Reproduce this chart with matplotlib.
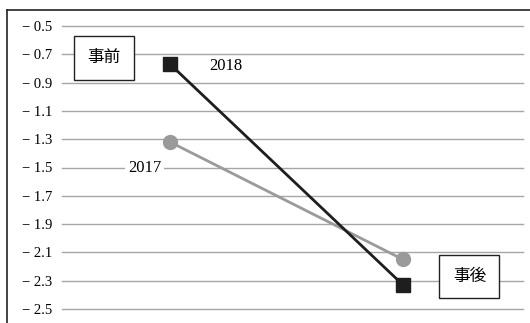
import matplotlib
matplotlib.use("Agg")
import matplotlib.pyplot as plt
from matplotlib.lines import Line2D

# data
phases = ["事前", "事後"]
values_2018 = [-0.77, -2.33]
values_2017 = [-1.32, -2.15]
yticks = [-0.5, -0.7, -0.9, -1.1, -1.3, -1.5, -1.7, -1.9, -2.1, -2.3, -2.5]

SERIF = ["Liberation Serif", "Noto Sans CJK JP", "DejaVu Serif"]
JP = ["Noto Sans CJK JP", "DejaVu Sans"]

fig = plt.figure(figsize=(5.3, 3.23), dpi=100)
ax = fig.add_axes([62 / 530, 1 - 309 / 323, (523 - 62) / 530, (309 - 26) / 323])

for y in yticks:
    ax.axhline(y, color="#a6a6a6", lw=1.0, zorder=0, clip_on=False)

x = list(range(len(phases)))
ax.plot(x, values_2017, color="#9a9a9a", lw=2, marker="o", ms=10, zorder=2)
ax.plot(x, values_2018, color="#1e1e1e", lw=2, marker="s", ms=9.5, zorder=3)

ax.set_xlim(-0.464, 1.515)
ax.set_ylim(-2.5, -0.5)
ax.set_xticks([])
ax.set_yticks(yticks)
ax.set_yticklabels([f"\u2212 {abs(v):.1f}" for v in yticks], family=SERIF, fontsize=10.5)
ax.tick_params(axis="y", length=0, pad=7)
for s in ax.spines.values():
    s.set_visible(False)

# series labels
ax.text(0.24, -0.785, "2018", family=SERIF, fontsize=12, ha="center", va="center")
ax.text(-0.11, -1.5, "2017", family=SERIF, fontsize=12, ha="center", va="center",
        bbox=dict(boxstyle="square,pad=0.2", fc="white", ec="none"))

# phase boxes
box = dict(boxstyle="square,pad=0.8", fc="white", ec="#222222", lw=1)
ax.text(-0.285, -0.726, phases[0], family=JP, fontsize=12, ha="center", va="center", bbox=box)
ax.text(1.285, -2.27, phases[1], family=JP, fontsize=12, ha="center", va="center", bbox=box)

# outer frame (top and left only visible in the reference)
fig.add_artist(Line2D([7 / 530, 7 / 530], [0, 1 - 10 / 323], color="#222222", lw=1.2))
fig.add_artist(Line2D([7 / 530, 1], [1 - 10 / 323, 1 - 10 / 323], color="#222222", lw=1.2))

fig.savefig("out.png", dpi=100, facecolor="white")
